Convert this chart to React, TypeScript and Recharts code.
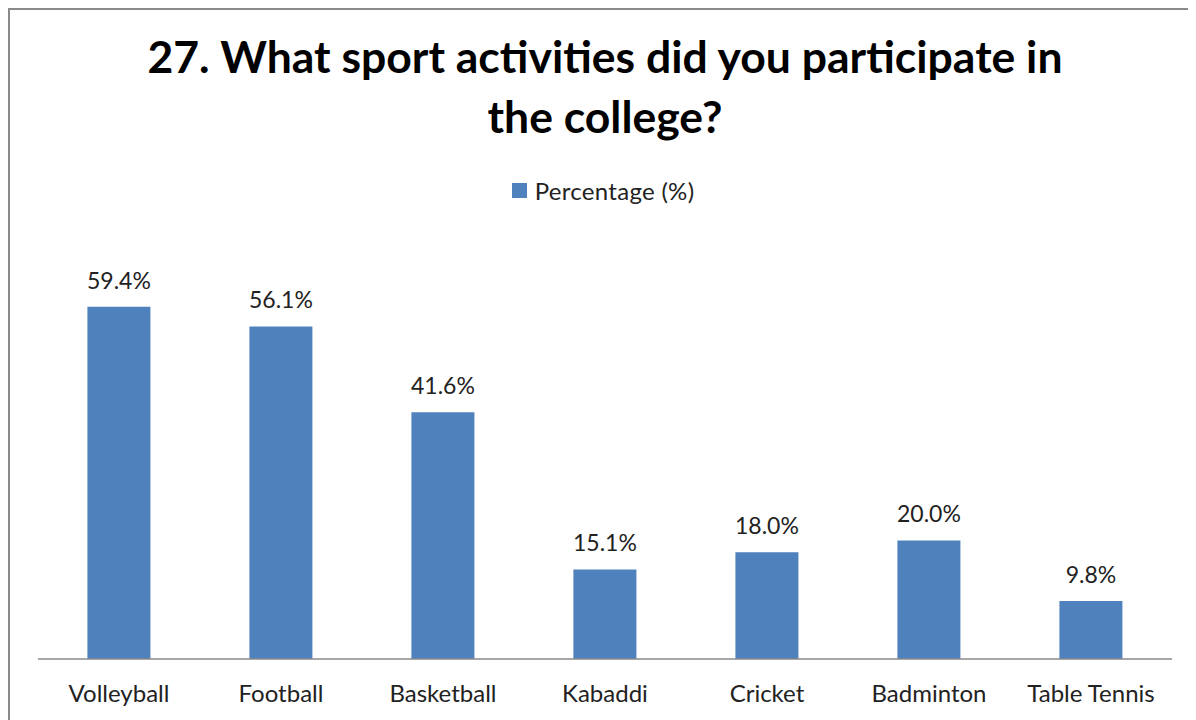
import React from 'react';
import { BarChart, Bar, XAxis, YAxis, LabelList, Legend } from 'recharts';

// Survey question 27 results
const sports = ['Volleyball', 'Football', 'Basketball', 'Kabaddi', 'Cricket', 'Badminton', 'Table Tennis'];
const percentages = [59.4, 56.1, 41.6, 15.1, 18.0, 20.0, 9.8];

const FONT = 'Lato, "Open Sans", sans-serif';
const BAR_COLOR = '#4F81BD';
const LEGEND_H = 28;

const chartData = sports.map((name, i) => ({ name, value: percentages[i] }));

const LegendContent = () => (
  <div
    style={{
      height: LEGEND_H,
      display: 'flex',
      alignItems: 'center',
      justifyContent: 'center',
      fontFamily: FONT,
      fontSize: 24,
      letterSpacing: 0.3,
      color: '#222',
    }}
  >
    <span style={{ width: 15, height: 15, background: BAR_COLOR, marginRight: 8, display: 'inline-block' }} />
    Percentage (%)
  </div>
);

export default function App() {
  return (
    <div
      style={{
        position: 'relative',
        width: 1188,
        height: 712,
        boxSizing: 'border-box',
        borderLeft: '2px solid #8a8a8a',
        borderTop: '2px solid #8a8a8a',
        background: '#fff',
        overflow: 'hidden',
      }}
    >
      <div
        style={{
          position: 'absolute',
          top: 16,
          left: 0,
          width: 1190,
          textAlign: 'center',
          fontFamily: FONT,
          fontWeight: 700,
          fontSize: 44.5,
          lineHeight: '60px',
          color: '#000',
        }}
      >
        27. What sport activities did you participate in
        <br />
        the college?
      </div>
      <BarChart
        width={1186}
        height={710}
        data={chartData}
        margin={{ top: 234 - LEGEND_H, right: 24, bottom: 21, left: 28 }}
        barCategoryGap="30.5%"
      >
        <XAxis
          dataKey="name"
          axisLine={{ stroke: '#8a8a8a', strokeWidth: 1.5 }}
          tickLine={false}
          height={40}
          interval={0}
          tick={{ fontFamily: FONT, fontSize: 24, fill: '#222' }}
          tickMargin={20}
        />
        <YAxis hide domain={[0, 70]} />
        <Legend
          verticalAlign="top"
          align="center"
          content={<LegendContent />}
          wrapperStyle={{ top: 166, left: 0, width: 1186 }}
        />
        <Bar dataKey="value" fill={BAR_COLOR} isAnimationActive={false}>
          <LabelList
            dataKey="value"
            position="top"
            offset={18}
            formatter={(v: number) => `${v.toFixed(1)}%`}
            style={{ fontFamily: FONT, fontSize: 23, fill: '#222' }}
          />
        </Bar>
      </BarChart>
    </div>
  );
}
